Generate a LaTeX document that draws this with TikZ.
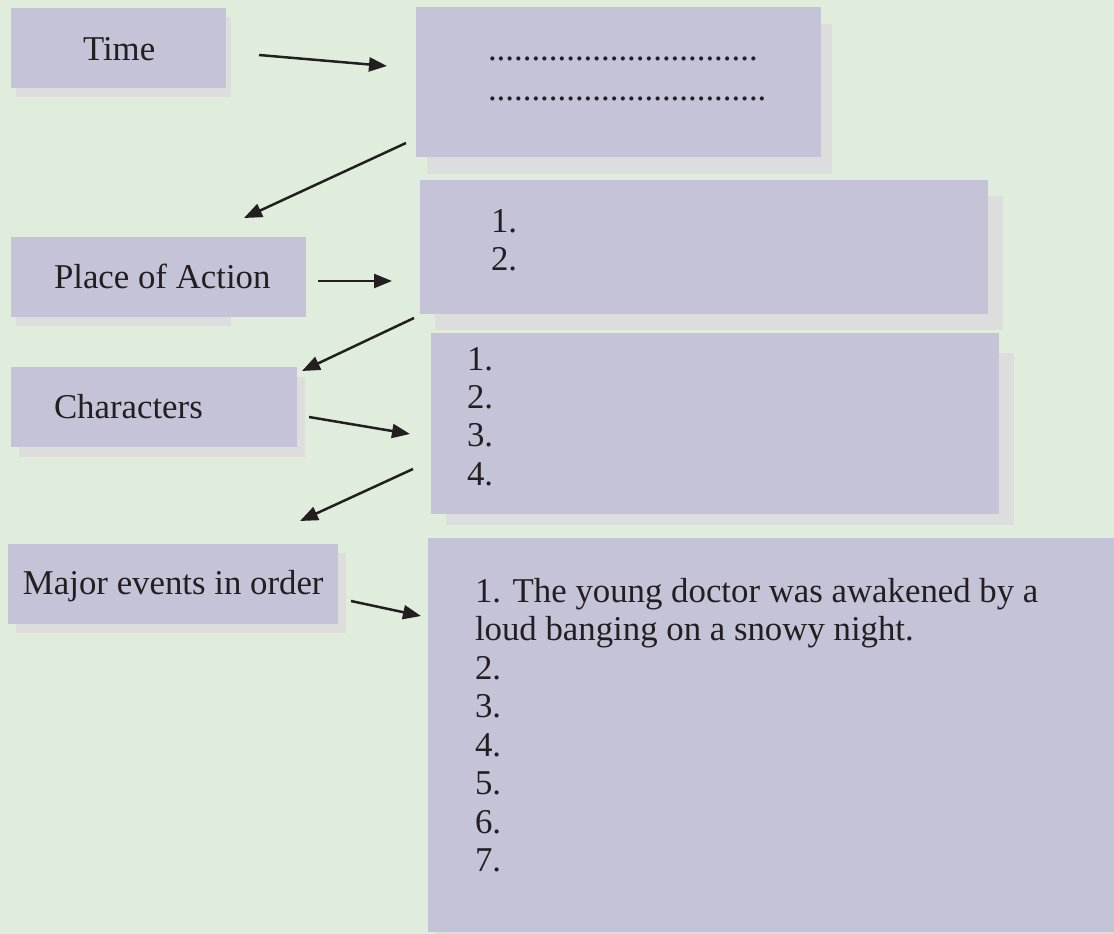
\documentclass[tikz,border=0pt]{standalone}
\usepackage{fontspec}
\setmainfont{Liberation Serif}
\usetikzlibrary{arrows.meta}
\definecolor{bgc}{HTML}{E1EDDC}
\definecolor{boxc}{HTML}{C4C3D8}
\definecolor{shc}{HTML}{DDDDDD}
\definecolor{ink}{HTML}{231F20}
\tikzset{
  box/.style={fill=boxc, draw=none, inner sep=0pt, outer sep=0pt, anchor=north west},
  shadowbox/.style={fill=shc, draw=none, inner sep=0pt, outer sep=0pt, anchor=north west},
  txt/.style={anchor=base west, inner sep=0pt, outer sep=0pt, text=ink, font=\fontsize{34.8}{38}\selectfont},
  arr/.style={draw=ink, line width=2.5pt, -{Triangle[length=18pt,width=14pt]}}
}
\begin{document}
\begin{tikzpicture}[x=1pt,y=-1pt]
\fill[bgc] (0,0) rectangle (1114,934);
\useasboundingbox (0,0) rectangle (1114,934);
% shadows
\node[shadowbox, minimum width=215pt, minimum height=80pt] (timeS) at (16,17) {};
\node[shadowbox, minimum width=405pt, minimum height=150pt] (timeAS) at (427,24) {};
\node[shadowbox, minimum width=215pt, minimum height=80pt] (placeS) at (16,246) {};
\node[shadowbox, minimum width=568pt, minimum height=134pt] (placeAS) at (435,196) {};
\node[shadowbox, minimum width=286pt, minimum height=80pt] (charS) at (19,377) {};
\node[shadowbox, minimum width=568pt, minimum height=172pt] (charAS) at (446,353) {};
\node[shadowbox, minimum width=330pt, minimum height=80pt] (majorS) at (16,553) {};
\node[shadowbox, minimum width=690pt, minimum height=394pt] (eventsS) at (436,540) {};
% boxes
\node[box, minimum width=215pt, minimum height=80pt] (time) at (11,8) {};
\node[box, minimum width=405pt, minimum height=150pt] (timeA) at (416,7) {};
\node[box, minimum width=295pt, minimum height=80pt] (place) at (11,237) {};
\node[box, minimum width=568pt, minimum height=134pt] (placeA) at (420,180) {};
\node[box, minimum width=286pt, minimum height=80pt] (char) at (11,367) {};
\node[box, minimum width=568pt, minimum height=181pt] (charA) at (431,333) {};
\node[box, minimum width=330pt, minimum height=80pt] (major) at (8,544) {};
\node[box, minimum width=690pt, minimum height=394pt] (events) at (428,538) {};
% texts
\node[txt] (timeT) at (83,61) {Time};
\node[txt] (dots1) at (488,61) {...............................};
\node[txt] (dots2) at (488,100) {................................};
\node[txt] (placeT) at (54,288) {Place of Action};
\node[txt] (placeA1) at (491,232) {1.};
\node[txt] (placeA2) at (491,270) {2.};
\node[txt] (charT) at (54,418) {Characters};
\node[txt] (charA1) at (467,370) {1.};
\node[txt] (charA2) at (467,408) {2.};
\node[txt] (charA3) at (467,446.5) {3.};
\node[txt] (charA4) at (467,485) {4.};
\node[txt] (majorT) at (23,594) {Major events in order};
\node[txt] (ev1) at (475,602) {1. The young doctor was awakened by a};
\node[txt] (ev1b) at (475,640.5) {loud banging on a snowy night.};
\node[txt] (ev2) at (475,679) {2.};
\node[txt] (ev3) at (475,717.5) {3.};
\node[txt] (ev4) at (475,756) {4.};
\node[txt] (ev5) at (475,794.5) {5.};
\node[txt] (ev6) at (475,833) {6.};
\node[txt] (ev7) at (475,871.5) {7.};
% arrow end points
\coordinate (a1s) at (259,55); \coordinate (a1e) at (387,66);
\coordinate (a2s) at (406,143); \coordinate (a2e) at (244,218);
\coordinate (a3s) at (318,281); \coordinate (a3e) at (392,281);
\coordinate (a4s) at (414,318); \coordinate (a4e) at (302,371);
\coordinate (a5s) at (309,417); \coordinate (a5e) at (410,434);
\coordinate (a6s) at (413,469); \coordinate (a6e) at (300,521);
\coordinate (a7s) at (351,601); \coordinate (a7e) at (421,616);
\draw[arr] (a1s) -- (a1e);
\draw[arr] (a2s) -- (a2e);
\draw[arr] (a3s) -- (a3e);
\draw[arr] (a4s) -- (a4e);
\draw[arr] (a5s) -- (a5e);
\draw[arr] (a6s) -- (a6e);
\draw[arr] (a7s) -- (a7e);
\end{tikzpicture}
\end{document}
